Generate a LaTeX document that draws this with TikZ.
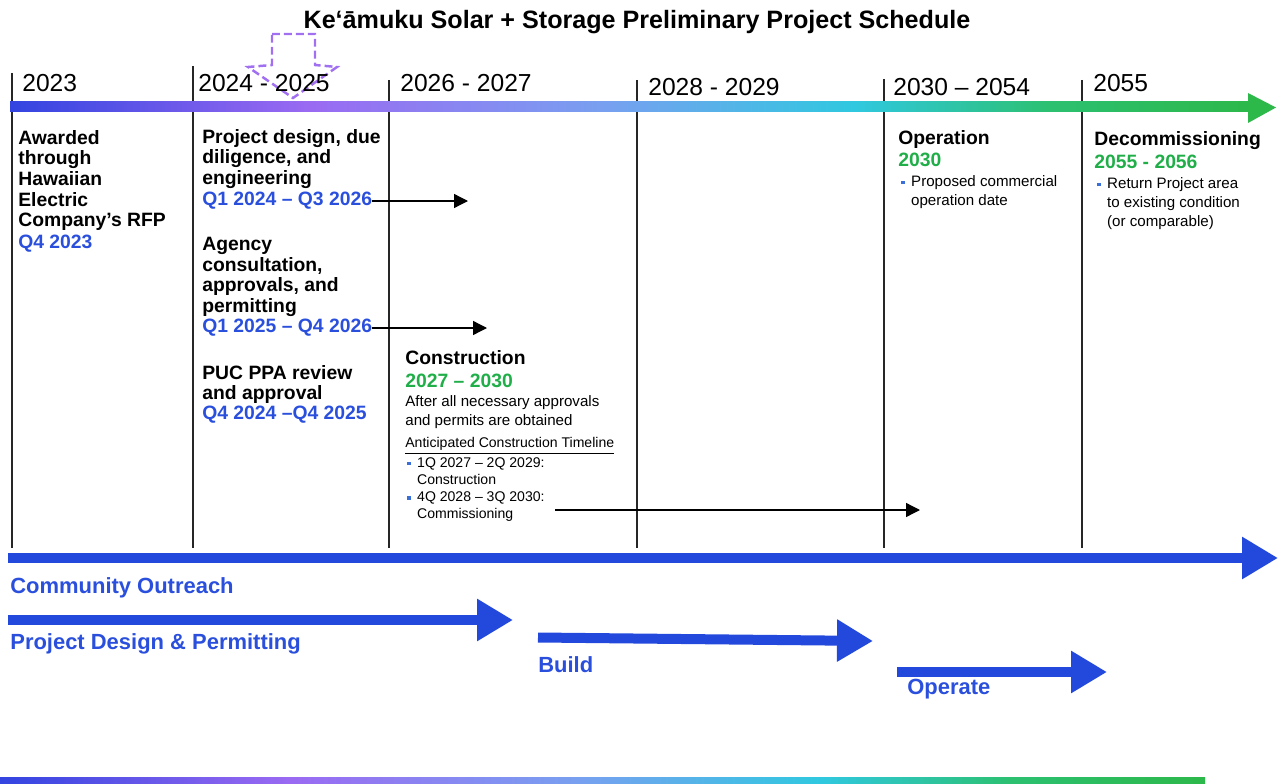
\documentclass[tikz,border=0pt]{standalone}
\usepackage{fontspec}
\setmainfont{Liberation Sans}
\usetikzlibrary{arrows.meta}
\definecolor{qblue}{HTML}{2A4FDD}
\definecolor{barblue}{HTML}{2349DC}
\definecolor{qgreen}{HTML}{20AE48}
\definecolor{dotblue}{HTML}{3A6FD8}
\definecolor{hintpurple}{HTML}{A070F0}
\definecolor{gA}{HTML}{3344E0}
\definecolor{gB}{HTML}{9A6AF2}
\definecolor{gC}{HTML}{78A0F0}
\definecolor{gD}{HTML}{30C8E0}
\definecolor{gE}{HTML}{2CC070}
\definecolor{gF}{HTML}{2DB84A}
\pgfdeclarehorizontalshading{timebar}{100bp}{color(0bp)=(gA); color(25bp)=(gA); color(37bp)=(gB); color(49bp)=(gC); color(59bp)=(gD); color(67bp)=(gE); color(75bp)=(gF); color(100bp)=(gF)}
\newcommand{\sq}{\textcolor{dotblue}{\rule[0.25ex]{2pt}{2pt}}\hspace{3.6pt}}

\begin{document}
\begin{tikzpicture}[x=0.02cm, y=-0.02cm,
        yr/.style={anchor=north west, inner sep=0, font=\fontsize{14}{16}\selectfont},
        hd/.style={anchor=north west, inner sep=0, align=left, font=\fontsize{11}{11.7}\selectfont\bfseries},
        sm/.style={anchor=north west, inner sep=0, align=left, font=\fontsize{8.6}{10.8}\selectfont},
        tl/.style={anchor=north west, inner sep=0, align=left, font=\fontsize{8}{9.8}\selectfont},
        lbl/.style={anchor=north west, inner sep=0, text=qblue, font=\fontsize{12.5}{14}\selectfont\bfseries},
        yearline/.style={draw=black!85, line width=0.7pt},
        phase/.style={barblue, line width=0.2cm, -{Triangle[length=0.72cm, width=0.8cm]}},
        link/.style={black, line width=0.75pt, -{Triangle[length=0.28cm, width=0.28cm]}}]
    \useasboundingbox (0,0) rectangle (1282,784);

    \node[font=\fontsize{14.3}{16}\selectfont\bfseries] (title) at (637,22) {Ke‘āmuku Solar + Storage Preliminary Project Schedule};

    \foreach \x/\t in {12/73, 193/66, 389/80, 637/80, 884/79, 1082/80}
        \draw[yearline] (\x,\t) -- (\x,548);

    \shade[shading=timebar] (10,102) rectangle (1250,112);
    \fill[gF] (1248,93) -- (1276,107.5) -- (1248,123) -- cycle;

    \draw[hintpurple, line width=1.4pt, dash pattern=on 4.5pt off 2.3pt] (272,34) -- (315,34) -- (315,65) -- (337,67) -- (293,98) -- (248,67) -- (272,65) -- cycle;

    \node[yr] (y23) at (22,74) {2023};
    \node[yr] (y24) at (198,74) {2024 - 2025};
    \node[yr] (y26) at (400,74) {2026 - 2027};
    \node[yr] (y28) at (648,78) {2028 - 2029};
    \node[yr] (y30) at (893,78) {2030 – 2054};
    \node[yr] (y55) at (1093,74) {2055};

    \node[hd] (award) at (18,130) {Awarded\\through\\Hawaiian\\Electric\\Company's RFP};
    \node[hd, text=qblue] (awardq) at (18,235) {Q4 2023};

    \node[hd] (design) at (202,129) {Project design, due\\diligence, and\\engineering};
    \node[hd, text=qblue] (designq) at (202,192) {Q1 2024 – Q3 2026};
    \node[hd] (agency) at (202,237) {Agency\\consultation,\\approvals, and\\permitting};
    \node[hd, text=qblue] (agencyq) at (202,319) {Q1 2025 – Q4 2026};
    \node[hd] (puc) at (202,365) {PUC PPA review\\and approval};
    \node[hd, text=qblue] (pucq) at (202,406) {Q4 2024 –Q4 2025};

    \coordinate (designend) at (468,200);
    \coordinate (agencyend) at (487,326);
    \draw[link] (designq.east) -- (designq.east -| designend);
    \draw[link] (agencyq.east) -- (agencyq.east -| agencyend);

    \node[hd] (build) at (405,350) {Construction};
    \node[hd, text=qgreen] (buildyr) at (405,374) {2027 – 2030};
    \node[sm] (buildnote) at (405,395) {After all necessary approvals\\and permits are obtained};
    \node[tl] (tlhead) at (405,437) {\underline{Anticipated Construction Timeline}};
    \node[tl] (tlist) at (407,457) {\sq 1Q 2027 – 2Q 2029:\\\hphantom{\sq}Construction\\\sq 4Q 2028 – 3Q 2030:\\\hphantom{\sq}Commissioning};
    \coordinate (commstart) at (555,510);
    \coordinate (commend) at (920,510);
    \draw[link] (commstart) -- (commend);

    \node[hd] (oper) at (898,130) {Operation};
    \node[hd, text=qgreen] (operyr) at (898,153) {2030};
    \node[sm] (opernote) at (901,175) {\sq Proposed commercial\\\hphantom{\sq}operation date};

    \node[hd] (decom) at (1094,131) {Decommissioning};
    \node[hd, text=qgreen] (decomyr) at (1094,155) {2055 - 2056};
    \node[sm] (decomnote) at (1097,177) {\sq Return Project area\\\hphantom{\sq}to existing condition\\\hphantom{\sq}(or comparable)};

    \draw[phase] (8,558) -- (1278,558);
    \node[lbl] (outreach) at (10,577) {Community Outreach};
    \draw[phase] (8,620) -- (513,620);
    \node[lbl] (permit) at (10,633) {Project Design \& Permitting};
    \draw[phase] (538,637.5) -- (873,641);
    \node[lbl] (buildlbl) at (538,656) {Build};
    \draw[phase] (897,672) -- (1107,672);
    \node[lbl] (operlbl) at (907,679) {Operate};

    \shade[shading=timebar] (0,777) rectangle (1205,784);
\end{tikzpicture}
\end{document}
